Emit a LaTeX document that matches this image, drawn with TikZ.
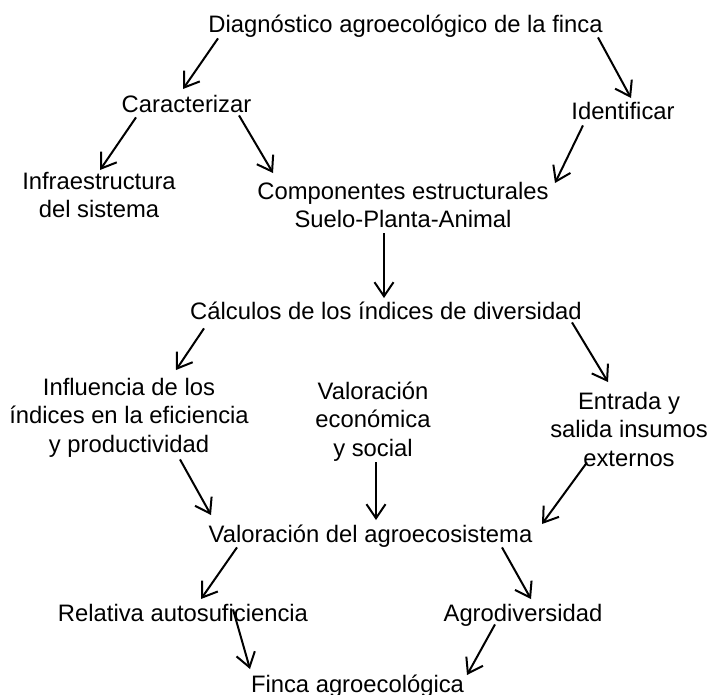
\documentclass[tikz,border=0pt]{standalone}
\usepackage{fontspec}
\setmainfont{Liberation Sans}
\usetikzlibrary{arrows.meta}
\tikzset{
  paso/.style={inner sep=0pt,anchor=north,align=center,
    font=\fontsize{23.8}{28.5}\selectfont},
  flecha/.style={-{Straight Barb[length=14pt,width=19pt]},line width=2pt}
}
\begin{document}
\begin{tikzpicture}[x=1pt,y=-1pt]
      \useasboundingbox (0,0) rectangle (710,694);
      \draw
        (405.5,12) node[paso] (diag){\strut Diagnóstico agroecológico de la finca}
        (186.5,92) node[paso] (carac){\strut Caracterizar}
        (623,99) node[paso] (ident){\strut Identificar}
        (99,169) node[paso] (infra){\strut Infraestructura\\del sistema\strut}
        (403,179) node[paso] (comp){\strut Componentes estructurales\\Suelo-Planta-Animal\strut}
        (386,299) node[paso] (calc){\strut Cálculos de los índices de diversidad}
        (129,375) node[paso] (influ){\strut Influencia de los\\índices en la eficiencia\\y productividad\strut}
        (373,379) node[paso] (valec){\strut Valoración\\económica\\y social\strut}
        (629,389) node[paso] (entr){\strut Entrada y\\salida insumos\\externos\strut}
        (370.5,522) node[paso] (valag){\strut Valoración del agroecosistema}
        (183,601) node[paso] (rela){\strut Relativa autosuficiencia}
        (523,601) node[paso] (agro){\strut Agrodiversidad}
        (357.5,672) node[paso] (finca){\strut Finca agroecológica};
      \begin{scope}[flecha]
        \draw ([shift={(-187.5,-2.5)}]diag.south) to ([shift={(-3.5,-3)}]carac.north);
        \draw ([shift={(192.5,-3.5)}]diag.south) to ([shift={(8,-1)}]ident.north);
        \draw ([shift={(-50.5,-3.5)}]carac.south) to ([shift={(1,1)}]infra.north);
        \draw ([shift={(52.5,-5.5)}]carac.south) to ([shift={(-130,-6)}]comp.north);
        \draw ([shift={(-40,-2.5)}]ident.south) to ([shift={(152,4)}]comp.north);
        \draw ([shift={(-19,-3)}]comp.south) to ([shift={(-2,-1)}]calc.north);
        \draw ([shift={(-182,0.5)}]calc.south) to ([shift={(47,-5)}]influ.north);
        \draw ([shift={(186,-5.5)}]calc.south) to ([shift={(-21,-7)}]entr.north);
        \draw ([shift={(51,-1.5)}]influ.south) to ([shift={(-159.5,-7)}]valag.north);
        \draw ([shift={(3,-2.5)}]valec.south) to ([shift={(5.5,-2)}]valag.north);
        \draw ([shift={(-42,-12.5)}]entr.south) to ([shift={(171.5,2)}]valag.north);
        \draw ([shift={(-133.5,-3.5)}]valag.south) to ([shift={(18,-2)}]rela.north);
        \draw ([shift={(131.5,-3.5)}]valag.south) to ([shift={(8,-2)}]agro.north);
        \draw ([shift={(50,-20.5)}]rela.south) to ([shift={(-107.5,-3)}]finca.north);
        \draw ([shift={(-28,-5.5)}]agro.south) to ([shift={(109.5,3)}]finca.north);
      \end{scope}
    \end{tikzpicture}
\end{document}
